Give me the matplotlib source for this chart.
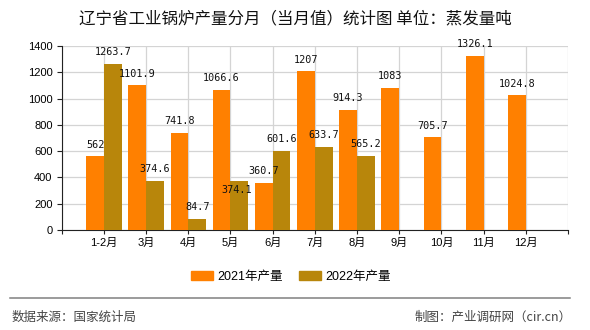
import matplotlib
import numpy as np

matplotlib.use("Agg")
import matplotlib.pyplot as plt
from matplotlib.lines import Line2D

plt.rcParams["font.family"] = ["Noto Sans CJK SC", "DejaVu Sans"]

months = ["1-2月", "3月", "4月", "5月", "6月", "7月", "8月", "9月", "10月", "11月", "12月"]
prod_2021 = [562, 1101.9, 741.8, 1066.6, 360.7, 1207, 914.3, 1083, 705.7, 1326.1, 1024.8]
prod_2022 = [1263.7, 374.6, 84.7, 374.1, 601.6, 633.7, 565.2]
labels_2021 = ["562", "1101.9", "741.8", "1066.6", "360.7", "1207", "914.3", "1083", "705.7", "1326.1", "1024.8"]
labels_2022 = ["1263.7", "374.6", "84.7", "374.1", "601.6", "633.7", "565.2"]
yticks = [0, 200, 400, 600, 800, 1000, 1200, 1400]

c21 = "#ff8000"
c22 = "#b8860b"
mixed = ["Liberation Sans", "Noto Sans CJK SC"]

fig = plt.figure(figsize=(5.9, 3.3), dpi=100)
ax = fig.add_axes([0.1046, 0.303, 0.858, 0.5576])

x = np.arange(1, len(months) + 1)
w = 0.42
ax.bar(x - w / 2, prod_2021, width=w, color=c21, zorder=3)
ax.bar(x[: len(prod_2022)] + w / 2, prod_2022, width=w, color=c22, zorder=3)

num_font = dict(family="DejaVu Sans Mono", fontsize=7.3, color="#111111")
for xi, v, t in zip(x - w / 2, prod_2021, labels_2021):
    ax.annotate(t, (xi, v), xytext=(0, 6.2), textcoords="offset points",
                ha="center", va="baseline", zorder=5, **num_font)
for i, (xi, v, t) in enumerate(zip(x[: len(prod_2022)] + w / 2, prod_2022, labels_2022)):
    # the May 2022 label is pushed down so it clears the June 2021 one
    off = (-1.8, -8.8) if i == 3 else (0, 6.2)
    ax.annotate(t, (xi, v), xytext=off, textcoords="offset points",
                ha="center", va="baseline", zorder=5, **num_font)

ax.set_xlim(0, len(months) + 1)
ax.set_ylim(0, 1400)
ax.set_yticks(yticks)
ax.set_yticklabels([str(t) for t in yticks], fontsize=8, family=mixed)
ax.set_xticks(np.arange(0, len(months) + 2))
ax.set_xticklabels([""] + months + [""], fontsize=8, family=mixed)
ax.tick_params(axis="x", length=3, direction="out", pad=2.5, color="#222222")
ax.tick_params(axis="y", length=3.6, direction="out", pad=3, color="#222222")
ax.grid(True, color="#d4d4d4", linewidth=0.9, zorder=0)
for s in ["top", "right"]:
    ax.spines[s].set_visible(False)
ax.spines["left"].set_color("#222222")
ax.spines["bottom"].set_color("#222222")

fig.text(0.5, 0.942, "辽宁省工业锅炉产量分月（当月值）统计图 单位：蒸发量吨",
         ha="center", va="center", fontsize=11.9, color="#111111")

handles = [plt.Rectangle((0, 0), 1, 1, color=c21), plt.Rectangle((0, 0), 1, 1, color=c22)]
fig.legend(handles, ["2021年产量", "2022年产量"], loc="center", bbox_to_anchor=(0.493, 0.1615),
           ncol=2, frameon=False, prop={"family": mixed, "size": 9}, handlelength=1.8,
           handleheight=0.78, columnspacing=1.3, handletextpad=0.3)

fig.add_artist(Line2D([0.017, 0.966], [0.096, 0.096], transform=fig.transFigure,
                      color="#808080", linewidth=1.1))
fig.text(0.02, 0.04, "数据来源：国家统计局", ha="left", va="center", fontsize=9, color="#444444")
fig.text(0.969, 0.04, "制图：产业调研网（cir.cn）", ha="right", va="center", fontsize=9, color="#444444")

fig.savefig("out.png", dpi=100)
